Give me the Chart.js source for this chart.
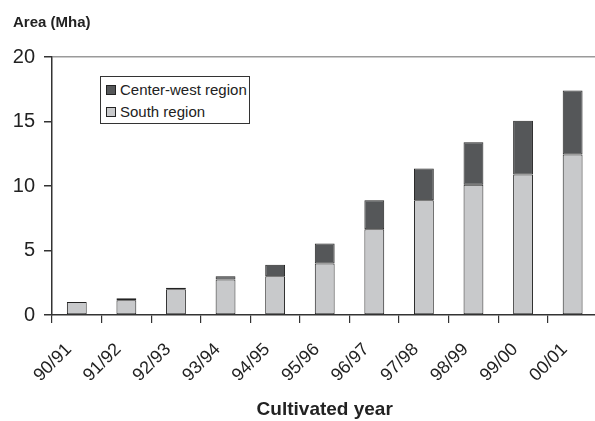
<!DOCTYPE html>
<html lang="en">
<head>
    <meta charset="UTF-8">
    <title>Cultivated area by year</title>
    <script src="https://cdn.jsdelivr.net/npm/chart.js"></script>
    <style>
        body {
            margin: 0;
            background: white;
            font-family: "Liberation Sans", Arial, sans-serif;
        }
        #frame {
            position: relative;
            width: 595px;
            height: 421px;
            overflow: hidden;
        }
        #box {
            position: absolute;
            left: 0;
            top: 0;
            width: 604px;
            height: 421px;
        }
        #legend {
            position: absolute;
            left: 100px;
            top: 76px;
            width: 148px;
            height: 46px;
            border: 1px solid #333;
            background: white;
            font-size: 15px;
            color: #222;
        }
        .item {
            position: absolute;
            left: 5px;
            height: 18px;
            line-height: 18px;
            white-space: nowrap;
        }
        .swatch {
            display: inline-block;
            width: 8px;
            height: 8px;
            border: 1px solid #222;
            margin-right: 4px;
            vertical-align: 0px;
        }
    </style>
</head>
<body>
    <div id="frame">
        <div id="box"><canvas id="areaChart"></canvas></div>
        <div id="legend"></div>
    </div>

    <script>
        // values (Mha)
        const years = ["90/91", "91/92", "92/93", "93/94", "94/95", "95/96", "96/97", "97/98", "98/99", "99/00", "00/01"];
        const southArea = [1.0, 1.15, 2.0, 2.75, 3.0, 4.0, 6.65, 8.9, 10.1, 10.9, 12.45];
        const centerWestArea = [0, 0.15, 0.12, 0.25, 0.9, 1.55, 2.25, 2.45, 3.3, 4.15, 4.95];
        const yTicks = [0, 5, 10, 15, 20];

        const darkGrey = "#555759";
        const lightGrey = "#c8c9cb";
        const ink = "#222222";

        // "Area (Mha)" sits above the axis, top left
        const axisCaption = {
            id: "axisCaption",
            afterDraw(chart) {
                const c = chart.ctx;
                c.save();
                c.font = "bold 15px 'Liberation Sans', Arial, sans-serif";
                c.fillStyle = ink;
                c.textBaseline = "middle";
                c.textAlign = "left";
                c.fillText("Area (Mha)", 13, 23);
                c.restore();
            }
        };

        const ctx = document.getElementById("areaChart").getContext("2d");
        const chart = new Chart(ctx, {
            type: "bar",
            data: {
                labels: years,
                datasets: [
                    {
                        label: "South region",
                        data: southArea,
                        backgroundColor: lightGrey,
                        borderColor: ink,
                        borderWidth: c => (c.raw ? 1 : 0),
                        borderSkipped: false,
                        barPercentage: 0.4,
                        categoryPercentage: 1.0
                    },
                    {
                        label: "Center-west region",
                        data: centerWestArea,
                        backgroundColor: darkGrey,
                        borderColor: ink,
                        borderWidth: c => (c.raw ? 1 : 0),
                        borderSkipped: false,
                        barPercentage: 0.4,
                        categoryPercentage: 1.0
                    }
                ]
            },
            options: {
                responsive: true,
                maintainAspectRatio: false,
                animation: false,
                layout: { padding: { top: 57, right: 2, left: 0, bottom: 0 } },
                plugins: {
                    legend: { display: false },
                    tooltip: { enabled: false }
                },
                scales: {
                    x: {
                        stacked: true,
                        offset: true,
                        afterFit(scale) {
                            scale.height = 106;
                        },
                        grid: {
                            offset: true,
                            drawOnChartArea: false,
                            drawTicks: true,
                            tickLength: 8,
                            color: "#333",
                            lineWidth: 1.2
                        },
                        border: { color: "#333", width: 1.5 },
                        ticks: {
                            minRotation: 45,
                            maxRotation: 45,
                            autoSkip: false,
                            color: ink,
                            padding: 16,
                            labelOffset: -8,
                            font: { family: "'Liberation Sans', Arial, sans-serif", size: 18 }
                        },
                        title: {
                            display: true,
                            text: "Cultivated year",
                            color: ink,
                            padding: { top: 4, bottom: 0 },
                            font: { family: "'Liberation Sans', Arial, sans-serif", size: 19, weight: "bold" }
                        }
                    },
                    y: {
                        stacked: true,
                        min: 0,
                        max: 20,
                        afterBuildTicks(scale) {
                            scale.ticks = yTicks.map(v => ({ value: v }));
                        },
                        afterFit(scale) {
                            scale.width = 52;
                        },
                        grid: {
                            color: c => (c.tick && c.tick.value === 20 ? "#9a9a9a" : "rgba(0,0,0,0)"),
                            tickColor: "#333",
                            lineWidth: 1.5,
                            drawTicks: true,
                            tickLength: 8
                        },
                        border: { color: "#333", width: 1.5 },
                        ticks: {
                            color: ink,
                            padding: 9,
                            font: { family: "'Liberation Sans', Arial, sans-serif", size: 20 }
                        }
                    }
                }
            },
            plugins: [axisCaption]
        });

        // legend box, Center-west listed first
        const legend = document.getElementById("legend");
        chart.data.datasets.slice().reverse().forEach((ds, i) => {
            const row = document.createElement("div");
            row.className = "item";
            row.style.top = (4 + i * 22) + "px";
            const sw = document.createElement("span");
            sw.className = "swatch";
            sw.style.background = ds.backgroundColor;
            row.appendChild(sw);
            row.appendChild(document.createTextNode(ds.label));
            legend.appendChild(row);
        });
    </script>
</body>
</html>
